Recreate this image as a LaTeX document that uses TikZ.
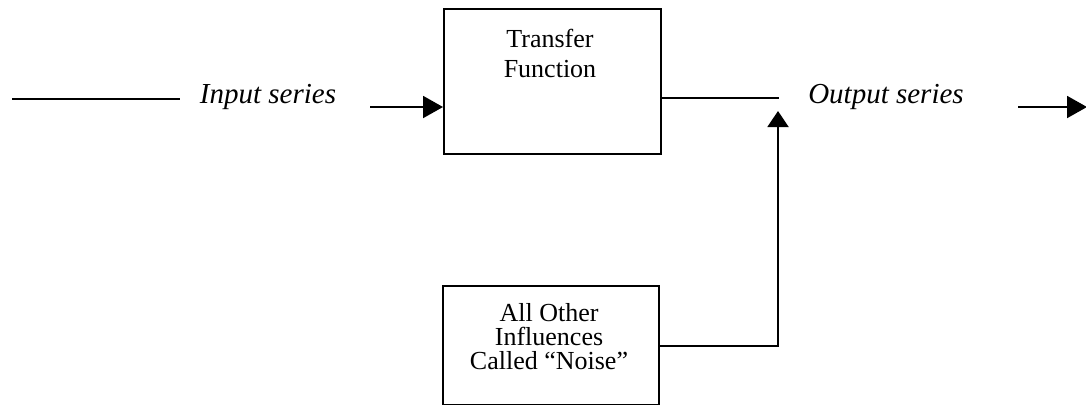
\documentclass[tikz,border=0pt]{standalone}
\usepackage{fontspec}
\setmainfont{Liberation Serif}
\usetikzlibrary{arrows.meta}
\begin{document}
\begin{tikzpicture}[x=0.5pt,y=-0.5pt,
  wire/.style={line width=1pt},
  arr/.style={line width=1pt,-{Triangle[length=10pt,width=11pt]}},
  varr/.style={line width=1pt,-{Triangle[length=8pt,width=10.5pt]}},
  blockbox/.style={draw,line width=1.1pt,rectangle,inner sep=0pt},
  lbl/.style={font=\fontsize{14.5}{17}\selectfont\itshape,inner sep=0pt,anchor=base},
  boxtxt/.style={inner sep=0pt,align=center,anchor=base}]
\useasboundingbox (0,0) rectangle (1086,404);
% blocks
\node[blockbox,minimum width=108.5pt,minimum height=72.5pt,anchor=north west] (tf) at (443,8) {};
\node[blockbox,minimum width=108pt,minimum height=59.5pt,anchor=north west] (noise) at (442,285) {};
\node[boxtxt,font=\fontsize{13}{15}\selectfont] (tftxt) at (550,77) {Transfer\\Function};
\node[boxtxt,font=\fontsize{13}{12}\selectfont] (noisetxt) at (549,369) {All Other\\Influences\\Called “Noise”};
% labels
\node[lbl] (inlbl) at (268,103) {Input series};
\node[lbl] (outlbl) at (886,103) {Output series};
% coordinates
\coordinate (inA) at (12,99);
\coordinate (inB) at (180,99);
\coordinate (a1) at (370,107);
\coordinate (o1) at (779,98);
\coordinate (nc) at (778,346);
\coordinate (vt) at (778,111);
\coordinate (oa) at (1018,107);
\coordinate (ob) at (1087,107);
% connectors
\draw[wire] (inA) -- (inB);
\draw[arr] (a1) -- (a1 -| tf.west);
\draw[wire] (tf.east |- o1) -- (o1);
\draw[varr] (noise.east |- nc) -- (nc) -- (vt);
\draw[arr] (oa) -- (ob);
\end{tikzpicture}
\end{document}
